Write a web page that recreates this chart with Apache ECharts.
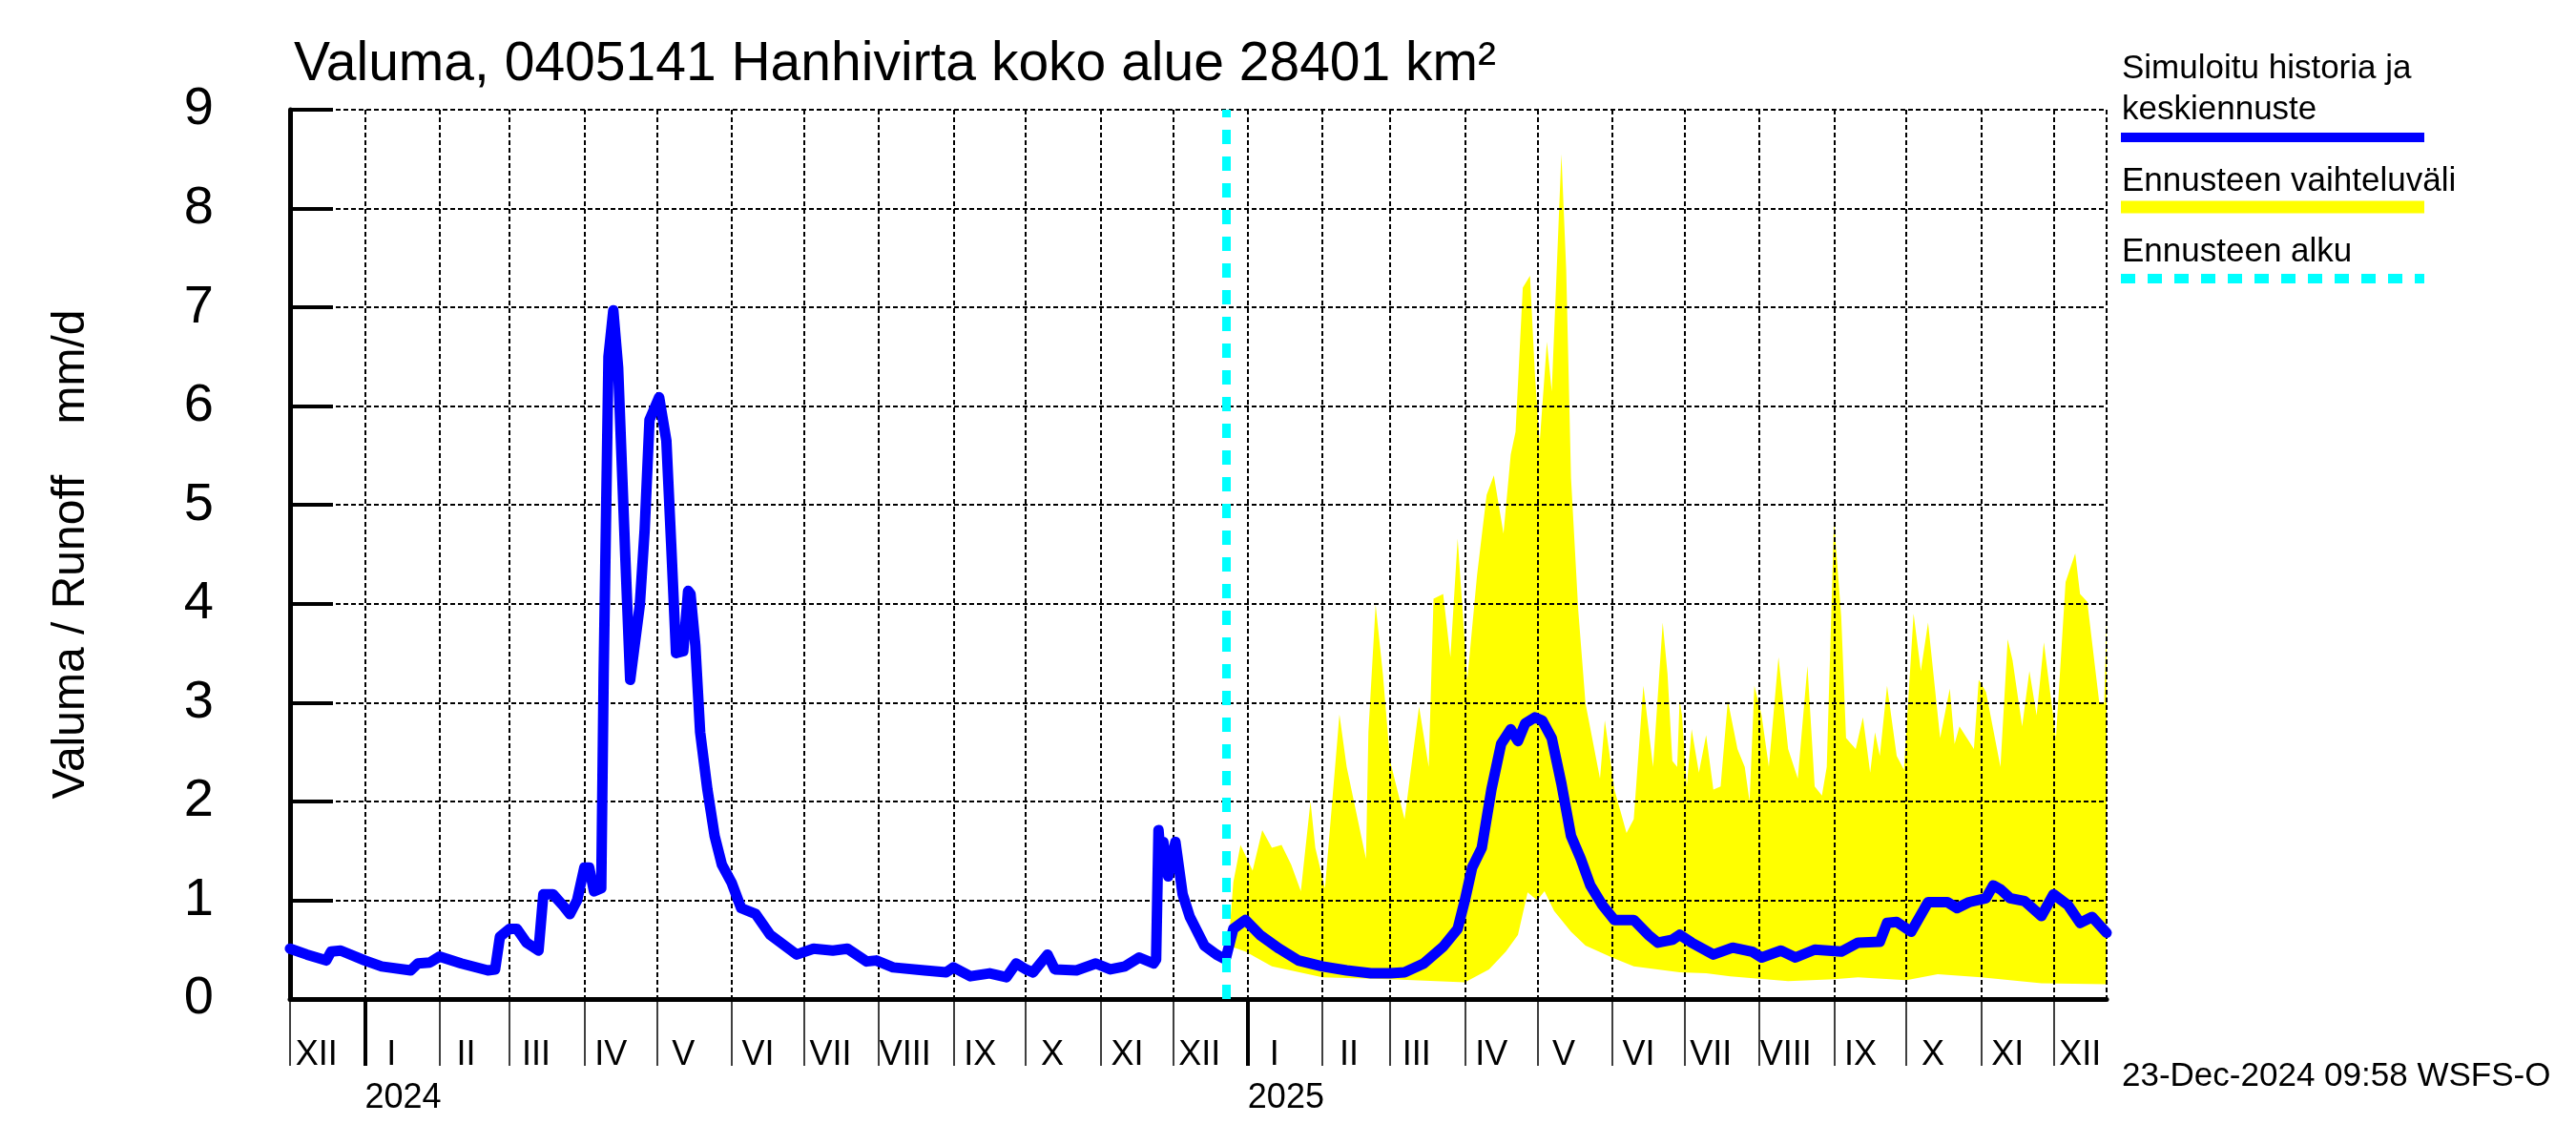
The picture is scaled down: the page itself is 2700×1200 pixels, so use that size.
<!DOCTYPE html>
<html>
<head>
<meta charset="utf-8">
<script src="https://cdn.jsdelivr.net/npm/echarts@6/dist/echarts.min.js"></script>
<style>
html,body{margin:0;padding:0;background:#ffffff;}
#chart{width:2700px;height:1200px;}
</style>
</head>
<body>
<div id="chart"></div>
<script>
// ---------------- DATA ----------------
const titleText = 'Valuma, 0405141 Hanhivirta koko alue 28401 km²';
const yAxisName = 'Valuma / Runoff    mm/d';
const yMin = 0, yMax = 9, yStep = 1;
const monthLabels = ['I','II','III','IV','V','VI','VII','VIII','IX','X','XI','XII'];
const axisStart = '2023-12-01';
const axisEnd = '2025-12-23';
const forecastStart = '2024-12-23';
const timestampText = '23-Dec-2024 09:58 WSFS-O';
const legendSim = ['Simuloitu historia ja', 'keskiennuste'];
const legendBand = 'Ennusteen vaihteluväli';
const legendStart = 'Ennusteen alku';

// Simulated history + median forecast (mm/d)
const simDates = [
 '2023-12-01','2023-12-08','2023-12-16','2023-12-18','2023-12-22','2024-01-01','2024-01-08','2024-01-20','2024-01-23','2024-01-28',
 '2024-02-01','2024-02-10','2024-02-21','2024-02-24','2024-02-26','2024-03-01','2024-03-04','2024-03-08','2024-03-13','2024-03-15',
 '2024-03-19','2024-03-23','2024-03-26','2024-03-29','2024-04-01','2024-04-03','2024-04-05','2024-04-08','2024-04-09','2024-04-11',
 '2024-04-13','2024-04-15','2024-04-18','2024-04-20','2024-04-24','2024-04-26','2024-04-28','2024-05-02','2024-05-05','2024-05-07',
 '2024-05-09','2024-05-12','2024-05-14','2024-05-15','2024-05-17','2024-05-19','2024-05-22','2024-05-25','2024-05-28','2024-06-01',
 '2024-06-05','2024-06-11','2024-06-17','2024-06-28','2024-07-05','2024-07-13','2024-07-19','2024-07-27','2024-07-31','2024-08-07',
 '2024-08-20','2024-08-29','2024-09-01','2024-09-08','2024-09-16','2024-09-23','2024-09-27','2024-10-01','2024-10-04','2024-10-10',
 '2024-10-13','2024-10-22','2024-10-30','2024-11-05','2024-11-11','2024-11-17','2024-11-23','2024-11-24','2024-11-25','2024-11-26',
 '2024-11-27','2024-11-29','2024-12-02','2024-12-05','2024-12-08','2024-12-14','2024-12-19','2024-12-22','2024-12-23','2024-12-26',
 '2024-12-31','2025-01-06','2025-01-14','2025-01-22','2025-02-01','2025-02-11','2025-02-21','2025-03-01','2025-03-07','2025-03-15',
 '2025-03-23','2025-03-29','2025-04-01','2025-04-04','2025-04-08','2025-04-12','2025-04-16','2025-04-20','2025-04-23','2025-04-26',
 '2025-04-30','2025-05-03','2025-05-07','2025-05-11','2025-05-15','2025-05-19','2025-05-23','2025-05-28','2025-06-02','2025-06-10',
 '2025-06-16','2025-06-20','2025-06-26','2025-06-29','2025-07-04','2025-07-13','2025-07-21','2025-07-29','2025-08-02','2025-08-10',
 '2025-08-16','2025-08-24','2025-09-04','2025-09-11','2025-09-20','2025-09-23','2025-09-27','2025-10-03','2025-10-10','2025-10-18',
 '2025-10-22','2025-10-27','2025-11-03','2025-11-06','2025-11-09','2025-11-13','2025-11-19','2025-11-26','2025-12-01','2025-12-07',
 '2025-12-12','2025-12-17','2025-12-23'
];
const simValues = [
 0.51,0.45,0.39,0.48,0.49,0.39,0.33,0.29,0.36,0.37,
 0.43,0.36,0.29,0.30,0.63,0.71,0.71,0.57,0.49,1.06,
 1.06,0.95,0.86,1.00,1.33,1.33,1.09,1.12,3.29,6.50,
 6.97,6.39,4.46,3.23,3.99,4.75,5.86,6.09,5.65,4.60,
 3.50,3.52,4.13,4.10,3.58,2.70,2.12,1.65,1.36,1.18,
 0.92,0.86,0.65,0.45,0.51,0.49,0.51,0.38,0.39,0.32,
 0.29,0.27,0.32,0.23,0.26,0.22,0.36,0.30,0.27,0.45,
 0.30,0.29,0.36,0.30,0.33,0.42,0.36,0.40,1.71,1.40,
 1.59,1.24,1.59,1.06,0.83,0.54,0.45,0.41,0.42,0.71,
 0.80,0.65,0.51,0.39,0.33,0.29,0.26,0.26,0.27,0.36,
 0.53,0.71,1.00,1.33,1.53,2.12,2.58,2.73,2.61,2.79,
 2.85,2.82,2.64,2.18,1.65,1.42,1.15,0.95,0.80,0.80,
 0.65,0.57,0.60,0.65,0.57,0.45,0.52,0.48,0.42,0.49,
 0.42,0.50,0.48,0.57,0.58,0.77,0.78,0.68,0.98,0.98,
 0.92,0.98,1.02,1.15,1.11,1.02,0.99,0.84,1.06,0.95,
 0.77,0.83,0.67
];

// Forecast range, upper edge
const bandUpperDates = [
 '2024-12-24','2024-12-26','2024-12-29','2025-01-03','2025-01-07','2025-01-11','2025-01-15','2025-01-19','2025-01-23','2025-01-27',
 '2025-01-29','2025-02-02','2025-02-08','2025-02-11','2025-02-19','2025-02-20','2025-02-23','2025-02-26','2025-03-01','2025-03-07',
 '2025-03-13','2025-03-17','2025-03-19','2025-03-23','2025-03-26','2025-03-29','2025-04-02','2025-04-06','2025-04-10','2025-04-13',
 '2025-04-17','2025-04-20','2025-04-22','2025-04-25','2025-04-28','2025-04-30','2025-05-02','2025-05-05','2025-05-07','2025-05-11',
 '2025-05-13','2025-05-15','2025-05-18','2025-05-21','2025-05-27','2025-05-29','2025-06-02','2025-06-07','2025-06-10','2025-06-14',
 '2025-06-18','2025-06-22','2025-06-24','2025-06-26','2025-06-28','2025-06-29','2025-06-30','2025-07-02','2025-07-04','2025-07-07',
 '2025-07-10','2025-07-13','2025-07-16','2025-07-19','2025-07-23','2025-07-26','2025-07-28','2025-07-30','2025-08-02','2025-08-05',
 '2025-08-09','2025-08-13','2025-08-17','2025-08-21','2025-08-24','2025-08-27','2025-08-29','2025-09-01','2025-09-04','2025-09-06',
 '2025-09-10','2025-09-13','2025-09-16','2025-09-18','2025-09-20','2025-09-23','2025-09-27','2025-09-30','2025-10-04','2025-10-07',
 '2025-10-10','2025-10-15','2025-10-19','2025-10-21','2025-10-23','2025-10-29','2025-10-31','2025-11-03','2025-11-09','2025-11-12',
 '2025-11-14','2025-11-18','2025-11-21','2025-11-24','2025-11-27','2025-12-02','2025-12-06','2025-12-10','2025-12-12','2025-12-15',
 '2025-12-20','2025-12-22','2025-12-23'
];
const bandUpperValues = [
 0.54,1.18,1.56,1.30,1.71,1.53,1.56,1.36,1.09,2.00,
 1.53,1.12,2.88,2.35,1.42,2.70,3.99,3.29,2.41,1.82,
 2.96,2.35,4.05,4.10,3.46,4.66,3.23,4.28,5.10,5.30,
 4.71,5.51,5.74,7.20,7.32,6.33,5.63,6.65,6.15,8.55,
 7.38,5.27,3.93,2.99,2.23,2.82,2.12,1.68,1.82,3.17,
 2.35,3.81,3.29,2.41,2.35,3.02,2.87,2.15,2.73,2.29,
 2.67,2.12,2.15,3.02,2.53,2.35,2.00,3.17,2.87,2.35,
 3.46,2.53,2.23,3.37,2.15,2.06,2.35,4.84,3.87,2.64,
 2.53,2.85,2.29,2.70,2.46,3.17,2.46,2.32,3.90,3.32,
 3.81,2.64,3.14,2.58,2.76,2.53,3.23,3.11,2.35,3.64,
 3.43,2.76,3.32,2.87,3.61,2.64,4.22,4.51,4.10,4.02,
 2.99,2.99,3.87
];

// Forecast range, lower edge
const bandLowerDates = [
 '2024-12-24','2024-12-31','2025-01-11','2025-02-01','2025-03-01','2025-04-01','2025-04-11','2025-04-18','2025-04-23','2025-04-27',
 '2025-05-01','2025-05-04','2025-05-08','2025-05-15','2025-05-21','2025-06-01','2025-06-10','2025-06-29','2025-07-10','2025-07-20',
 '2025-08-13','2025-09-01','2025-09-11','2025-10-01','2025-10-14','2025-11-01','2025-11-26','2025-12-23'
];
const bandLowerValues = [
 0.54,0.48,0.33,0.22,0.20,0.17,0.30,0.48,0.65,1.08,
 1.00,1.09,0.89,0.68,0.54,0.42,0.33,0.27,0.26,0.23,
 0.18,0.20,0.22,0.19,0.25,0.22,0.16,0.15
];

// ---------------- AXIS CATEGORIES (one per day) ----------------
const FONT = '"Liberation Sans", Arial, Helvetica, sans-serif';
function iso(t){ return new Date(t).toISOString().slice(0,10); }
const days = [];
for (let t = Date.parse(axisStart + 'T00:00:00Z'); t <= Date.parse(axisEnd + 'T00:00:00Z'); t += 86400000) days.push(iso(t));
const dayIndex = {};
days.forEach((d, i) => { dayIndex[d] = i; });
const lastIdx = days.length - 1;
const isMonthStart = i => days[i].slice(8) === '01';
const isGridDay = i => isMonthStart(i) || i === lastIdx;
const isLabelDay = i => days[i].slice(8) === '12';
const isYearStart = i => days[i].slice(5) === '01-01';

const simData = simDates.map((d, i) => [dayIndex[d], simValues[i]]);

const chart = echarts.init(document.getElementById('chart'), null, {renderer: 'canvas'});

const gridDash = {color: '#000', width: 2, type: [5, 3]};

const option = {
  animation: false,
  backgroundColor: '#ffffff',
  grid: {left: 304, right: 492, top: 115, bottom: 153, containLabel: false},
  xAxis: [
    {
      type: 'category', data: days, boundaryGap: false, position: 'bottom', z: 2,
      axisLine: {show: true, onZero: false, lineStyle: {color: '#000', width: 5}},
      axisTick: {show: true, interval: (i) => isMonthStart(i), length: 70, lineStyle: {color: '#000', width: 1.5}},
      axisLabel: {show: true, interval: (i) => isLabelDay(i),
        formatter: (v) => monthLabels[parseInt(v.slice(5, 7), 10) - 1],
        fontSize: 36, fontFamily: FONT, color: '#000', margin: 41},
      splitLine: {show: true, interval: (i) => isGridDay(i), lineStyle: gridDash}
    },
    {
      type: 'category', data: days, boundaryGap: false, position: 'bottom', z: 2,
      axisLine: {show: false},
      axisTick: {show: true, interval: (i) => isYearStart(i), length: 70, lineStyle: {color: '#000', width: 4}},
      axisLabel: {show: true, interval: (i) => isYearStart(i), formatter: (v) => v.slice(0, 4),
        align: 'left', fontSize: 36, fontFamily: FONT, color: '#000', margin: 86},
      splitLine: {show: false}
    }
  ],
  yAxis: {
    type: 'value', min: yMin, max: yMax, interval: yStep, z: 2,
    name: yAxisName, nameLocation: 'middle', nameRotate: 90, nameGap: 205,
    nameTextStyle: {fontSize: 48, fontFamily: FONT, color: '#000'},
    axisLine: {show: true, lineStyle: {color: '#000', width: 5}},
    axisTick: {show: true, inside: true, length: 45, lineStyle: {color: '#000', width: 4}},
    axisLabel: {fontSize: 56, fontFamily: FONT, color: '#000', margin: 80},
    splitLine: {show: true, lineStyle: gridDash}
  },
  series: [
    {
      type: 'custom', name: legendBand, z: 1, silent: true,
      data: [[0, 0]],
      renderItem: function (params, api) {
        if (params.dataIndex !== 0) return null;
        const pts = [];
        for (let i = 0; i < bandUpperDates.length; i++) pts.push(api.coord([dayIndex[bandUpperDates[i]], bandUpperValues[i]]));
        for (let i = bandLowerDates.length - 1; i >= 0; i--) pts.push(api.coord([dayIndex[bandLowerDates[i]], bandLowerValues[i]]));
        return {type: 'polygon', shape: {points: pts}, style: {fill: '#ffff00', stroke: null}};
      }
    },
    {
      type: 'line', name: legendSim.join(' '), z: 3, data: simData,
      showSymbol: false, symbol: 'none', silent: true,
      lineStyle: {color: '#0000ff', width: 11, join: 'round', cap: 'round'},
      markLine: {
        silent: true, symbol: ['none', 'none'], label: {show: false}, animation: false,
        lineStyle: {color: '#00ffff', width: 9, type: [15, 13]},
        data: [{xAxis: forecastStart}]
      }
    }
  ],
  graphic: [
    {type: 'text', x: 308, y: 68, style: {text: titleText, font: '57px ' + FONT, fill: '#000', verticalAlign: 'middle', textVerticalAlign: 'middle'}},
    {type: 'text', x: 2224, y: 72, style: {text: legendSim[0], font: '35px ' + FONT, fill: '#000', verticalAlign: 'middle', textVerticalAlign: 'middle'}},
    {type: 'text', x: 2224, y: 115, style: {text: legendSim[1], font: '35px ' + FONT, fill: '#000', verticalAlign: 'middle', textVerticalAlign: 'middle'}},
    {type: 'line', shape: {x1: 2223, y1: 144, x2: 2541, y2: 144}, style: {stroke: '#0000ff', lineWidth: 10}},
    {type: 'text', x: 2224, y: 190, style: {text: legendBand, font: '35px ' + FONT, fill: '#000', verticalAlign: 'middle', textVerticalAlign: 'middle'}},
    {type: 'line', shape: {x1: 2223, y1: 217, x2: 2541, y2: 217}, style: {stroke: '#ffff00', lineWidth: 13}},
    {type: 'text', x: 2224, y: 264, style: {text: legendStart, font: '35px ' + FONT, fill: '#000', verticalAlign: 'middle', textVerticalAlign: 'middle'}},
    {type: 'line', shape: {x1: 2223, y1: 292, x2: 2541, y2: 292}, style: {stroke: '#00ffff', lineWidth: 10, lineDash: [15, 13]}},
    {type: 'text', x: 2224, y: 1128, style: {text: timestampText, font: '35px ' + FONT, fill: '#000', verticalAlign: 'middle', textVerticalAlign: 'middle'}}
  ]
};
chart.setOption(option);
</script>
</body>
</html>
